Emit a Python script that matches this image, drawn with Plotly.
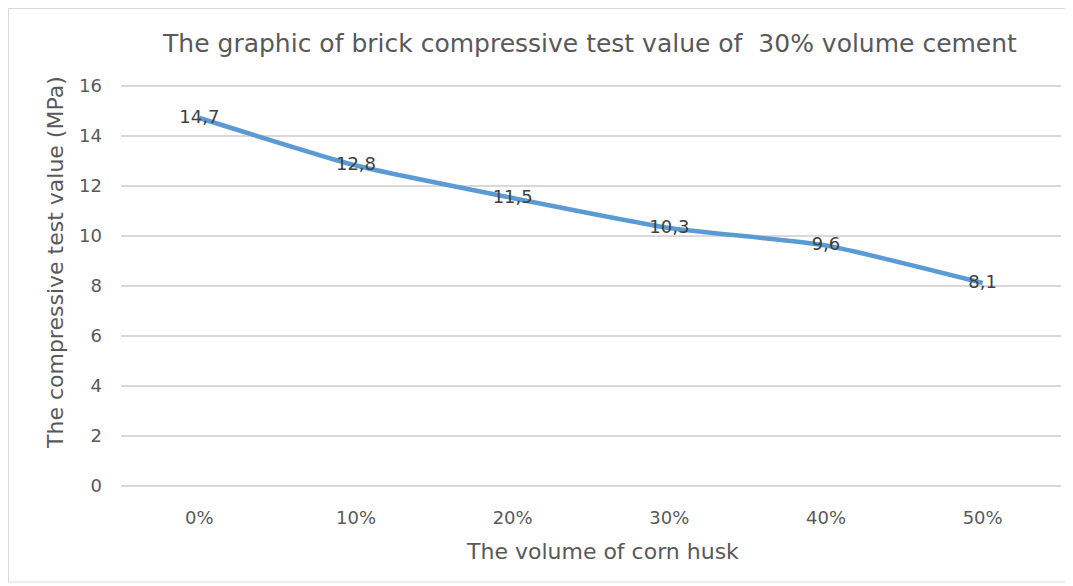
import plotly.graph_objects as go

categories = ["0%", "10%", "20%", "30%", "40%", "50%"]
values = [14.7, 12.8, 11.5, 10.3, 9.6, 8.1]
y_ticks = [0, 2, 4, 6, 8, 10, 12, 14, 16]

FONT = "DejaVu Sans"
GREY = "#595959"

L, T, PW, PH = 113, 75, 940, 405

def px(x):
    return (x - L) / PW

def py(y):
    return (T + PH - y) / PH

fig = go.Figure()
fig.add_trace(go.Scatter(
    x=categories, y=values, mode="lines+text",
    line=dict(color="#5B9BD5", width=4.5, shape="spline", smoothing=0.5),
    text=[f"{v:.1f}".replace(".", ",") for v in values],
    textposition="middle center",
    textfont=dict(family=FONT, size=18, color="#404040"),
    hoverinfo="skip", showlegend=False, cliponaxis=False,
))

fig.update_layout(
    width=1073, height=586,
    margin=dict(l=L, r=1073 - L - PW, t=T, b=586 - T - PH, pad=0),
    paper_bgcolor="white", plot_bgcolor="white",
    title=dict(text="The graphic of brick compressive test value of  30% volume cement",
               x=582 / 1073, xanchor="center", y=1 - 35 / 586, yanchor="middle",
               font=dict(family=FONT, size=25, color=GREY)),
    xaxis=dict(type="category", range=[-0.5, 5.5], showgrid=False, showline=False,
               ticks="", ticklabelstandoff=17,
               tickfont=dict(family=FONT, size=18, color=GREY)),
    yaxis=dict(range=[-0.1, 16.1], tickvals=y_ticks, showgrid=True, gridcolor="#D9D9D9",
               gridwidth=1.5, zeroline=False, showline=False, ticks="",
               ticklabelstandoff=18,
               tickfont=dict(family=FONT, size=18, color=GREY)),
    annotations=[
        dict(text="The volume of corn husk", xref="paper", yref="paper",
             x=px(594), y=py(543), xanchor="center", yanchor="middle", showarrow=False,
             font=dict(family=FONT, size=22, color=GREY)),
        dict(text="The compressive test value (MPa)", xref="paper", yref="paper",
             x=px(47), y=py(255), xanchor="center", yanchor="middle", showarrow=False,
             textangle=-90, font=dict(family=FONT, size=22, color=GREY)),
    ],
    shapes=[dict(type="rect", xref="paper", yref="paper",
                 x0=px(0.5), x1=px(1060), y0=py(574), y1=py(0.5),
                 line=dict(color="#D9D9D9", width=1), fillcolor="rgba(0,0,0,0)",
                 layer="below")],
)

fig.write_html("out.html")
